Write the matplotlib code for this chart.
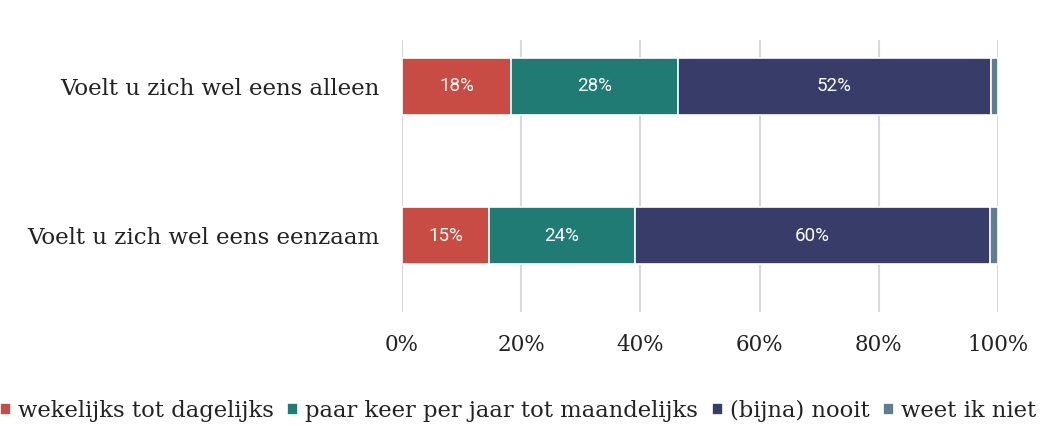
import matplotlib.pyplot as plt
import numpy as np

categories = ["Voelt u zich wel eens alleen", "Voelt u zich wel eens eenzaam"]
series_names = ["wekelijks tot dagelijks", "paar keer per jaar tot maandelijks",
                "(bijna) nooit", "weet ik niet"]
values = {
    "wekelijks tot dagelijks": [18.3, 14.6],
    "paar keer per jaar tot maandelijks": [28.0, 24.5],
    "(bijna) nooit": [52.5, 59.5],
    "weet ik niet": [1.2, 1.4],
}
bar_labels = {
    "wekelijks tot dagelijks": ["18%", "15%"],
    "paar keer per jaar tot maandelijks": ["28%", "24%"],
    "(bijna) nooit": ["52%", "60%"],
    "weet ik niet": ["", ""],
}
colors = ["#C94C44", "#1F7B73", "#383C69", "#5F7D8E"]
xticks = [0, 20, 40, 60, 80, 100]
xtick_labels = ["0%", "20%", "40%", "60%", "80%", "100%"]

serif = "DejaVu Serif"

fig = plt.figure(figsize=(10.46, 4.26), dpi=100)
ax = fig.add_axes([402 / 1046, (426 - 312) / 426, 596 / 1046, 272 / 426])

y = np.arange(len(categories))
left = np.zeros(len(categories))
handles = []
for name, c in zip(series_names, colors):
    vals = np.array(values[name])
    bars = ax.barh(y, vals, left=left, height=0.38, color=c,
                   edgecolor="white", linewidth=1.2, label=name, zorder=3)
    handles.append(bars)
    for yi, xi, v, lab in zip(y, left, vals, bar_labels[name]):
        if lab:
            ax.text(xi + v / 2, yi, lab, ha="center", va="center",
                    color="white", fontsize=13.5, family="Roboto", zorder=4)
    left += vals

ax.set_xlim(0, 100)
ax.set_ylim(1.51, -0.31)
ax.set_yticks(y)
ax.set_yticklabels(categories, family=serif, fontsize=16.5, color="#222222")
ax.set_xticks(xticks)
ax.set_xticklabels(xtick_labels, family=serif, fontsize=15.5, color="#222222")
ax.tick_params(length=0)
ax.tick_params(axis="x", pad=16)
ax.tick_params(axis="y", pad=16)
ax.grid(axis="x", color="#d9d9d9", linewidth=1.5, zorder=0)
for s in ax.spines.values():
    s.set_visible(False)

fig.legend(handles=handles, labels=series_names, loc="center",
           bbox_to_anchor=(518 / 1046, 1 - 411 / 426), ncol=4, frameon=False,
           prop={"family": serif, "size": 16.3}, labelcolor="#222222",
           handlelength=0.5, handleheight=0.5, handletextpad=0.3,
           columnspacing=0.6)

fig.savefig("out.png", dpi=100)
